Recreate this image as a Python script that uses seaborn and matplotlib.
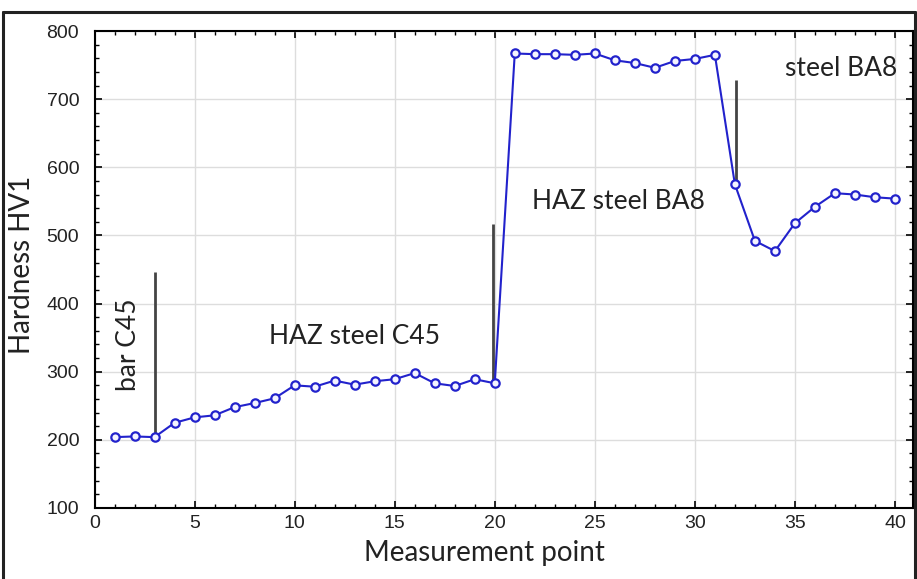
import matplotlib
matplotlib.use("Agg")
import matplotlib.pyplot as plt
import matplotlib.ticker as mticker
from matplotlib.lines import Line2D
import seaborn as sns
import pandas as pd

# ---- data ----
points = list(range(1, 41))
hardness = [204, 205, 204, 225, 233, 236, 248, 254, 261, 280,
            278, 287, 281, 286, 289, 298, 283, 279, 289, 283,
            767, 766, 766, 765, 767, 757, 753, 746, 756, 759,
            765, 575, 492, 477, 518, 542, 562, 560, 556, 554]

# zone boundary markers (x position, bottom value, top value)
marker_x = [3, 19.9, 32.07]
marker_bottom = [204, 283, 575]
marker_top = [446, 517, 728]

labels = ["bar C45", "HAZ steel C45", "HAZ steel BA8", "steel BA8"]
label_x = [1.72, 12.97, 26.2, 37.3]
label_y = [339, 351, 550, 745]
label_rot = [90, 0, 0, 0]

df = pd.DataFrame({"Measurement point": points, "Hardness HV1": hardness})

sns.set_theme(style="white")
plt.rcParams["font.family"] = ["Lato", "DejaVu Sans"]

fig = plt.figure(figsize=(9.17, 5.79), dpi=100)
ax = fig.add_axes([94.5 / 917, 1 - 508 / 579, (913 - 94.5) / 917, (508 - 31) / 579])

sns.lineplot(data=df, x="Measurement point", y="Hardness HV1", ax=ax,
             color="#2222cc", linewidth=1.5, marker="o", markersize=6,
             markerfacecolor="#f4f4ff", markeredgecolor="#2222cc",
             markeredgewidth=1.6, zorder=3)

ax.vlines(marker_x, marker_bottom, marker_top, color="#444444", linewidth=2, zorder=2)

for t, x, y, r in zip(labels, label_x, label_y, label_rot):
    ax.text(x, y, t, rotation=r, ha="center", va="center", fontsize=19,
            color="#222222")

ax.set_xlim(0, 40.9)
ax.set_ylim(100, 800)
ax.xaxis.set_major_locator(mticker.MultipleLocator(5))
ax.xaxis.set_minor_locator(mticker.MultipleLocator(1))
ax.yaxis.set_major_locator(mticker.MultipleLocator(100))
ax.yaxis.set_minor_locator(mticker.MultipleLocator(20))
ax.grid(True, which="major", color="#dddddd", linewidth=1)
ax.tick_params(which="both", direction="in", top=True, right=True,
               bottom=True, left=True, color="black")
ax.tick_params(which="major", length=5, width=1.2)
ax.tick_params(which="minor", length=3, width=1)
for lab in ax.get_xticklabels() + ax.get_yticklabels():
    lab.set_fontfamily(["Liberation Sans", "DejaVu Sans"])
    lab.set_fontsize(14)
    lab.set_color("#222222")
ax.tick_params(axis="x", pad=5)
ax.tick_params(axis="y", pad=11)
for s in ax.spines.values():
    s.set_color("black")
    s.set_linewidth(1.5)

ax.set_xlabel("Measurement point", fontsize=20, color="#222222", labelpad=7)
ax.xaxis.set_label_coords(0.476, -0.068, transform=ax.transAxes)
ax.xaxis.label.set_va("top")
ax.set_ylabel("Hardness HV1", fontsize=20, color="#222222")
ax.yaxis.set_label_coords((22 - 94.5) / 818.5, 0.51, transform=ax.transAxes)
ax.yaxis.label.set_va("center")

# outer frame
fx0, fx1, fy1 = 2.5 / 917, 914.5 / 917, 1 - 12 / 579
for xs, ys in [([fx0, fx0], [0, fy1]), ([fx0, fx1], [fy1, fy1]), ([fx1, fx1], [0, fy1])]:
    fig.add_artist(Line2D(xs, ys, transform=fig.transFigure, color="#222222", linewidth=2.2))

fig.savefig("out.png", dpi=100)
